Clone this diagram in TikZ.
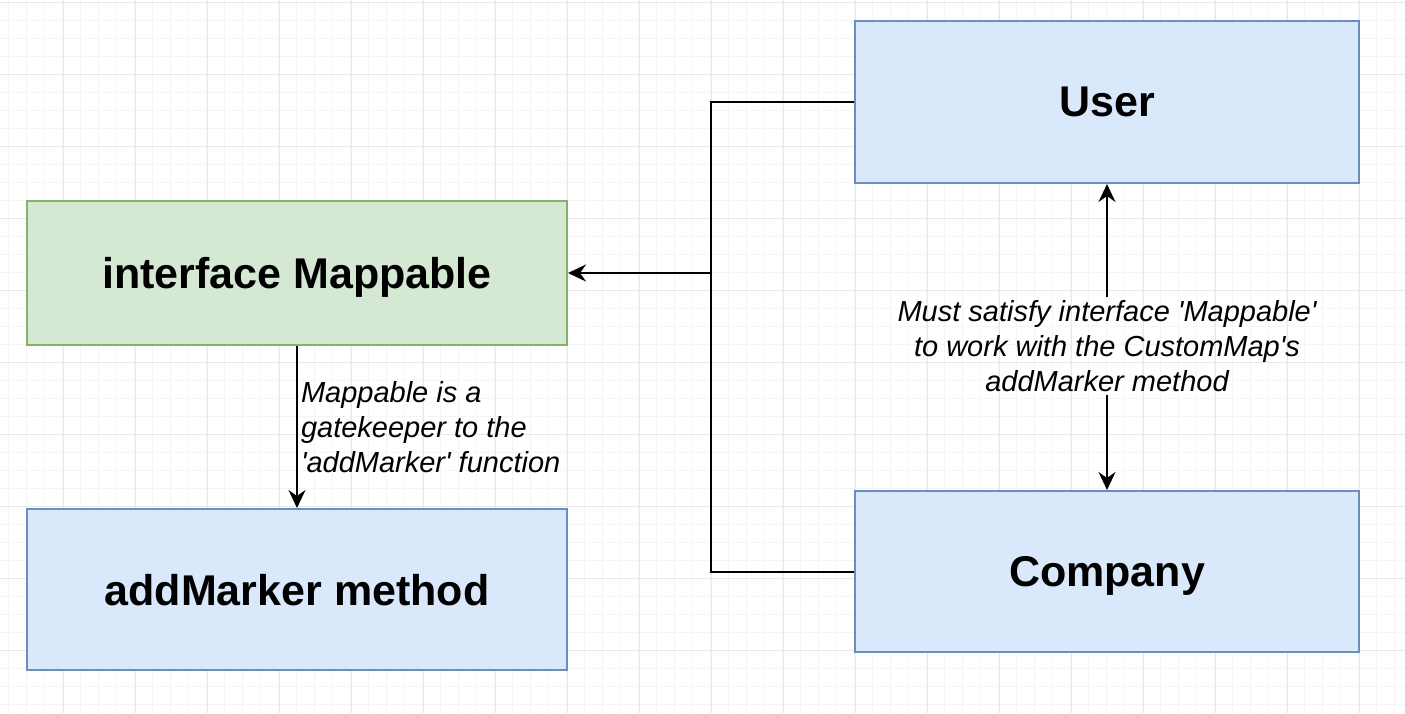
\documentclass[tikz,border=0pt]{standalone}
\usepackage{fontspec}
\setmainfont{Liberation Sans}
\usetikzlibrary{arrows.meta,positioning}
\definecolor{boxblue}{HTML}{DAE8FC}
\definecolor{lineblue}{HTML}{6C8EBF}
\definecolor{boxgreen}{HTML}{D5E8D4}
\definecolor{linegreen}{HTML}{82B366}
\definecolor{gridminor}{HTML}{F5F5F5}
\definecolor{gridmajor}{HTML}{E8E8E8}
\newcommand{\sq}{\textquotesingle}

\begin{document}
\begin{tikzpicture}[x=1pt, y=-1pt,
  box/.style={draw, line width=2pt, align=center, inner sep=0pt, text depth=0pt,
              font=\fontsize{43}{50}\selectfont\bfseries},
  bluebox/.style={box, fill=boxblue, draw=lineblue},
  greenbox/.style={box, fill=boxgreen, draw=linegreen},
  lbl/.style={align=center, inner sep=3pt, font=\fontsize{29}{35}\selectfont\itshape},
  arr/.style={-{Stealth[length=18pt, width=17pt, inset=6pt]}, line width=2pt},
  link/.style={line width=2pt}]
  \useasboundingbox (0,0) rectangle (1405,713);
  % background grid
  \foreach \x in {8.3,26.3,...,1405} \draw[gridminor, line width=1pt] (\x,0) -- (\x,713);
  \foreach \y in {2.3,20.3,...,713} \draw[gridminor, line width=1pt] (0,\y) -- (1405,\y);
  \foreach \x in {63.3,135.3,...,1405} \draw[gridmajor, line width=1pt] (\x,0) -- (\x,713);
  \foreach \y in {2.3,74.3,...,713} \draw[gridmajor, line width=1pt] (0,\y) -- (1405,\y);

  \node[greenbox, minimum width=540pt, minimum height=144pt] (mappable) at (297,273) {interface Mappable};
  \node[bluebox, minimum width=540pt, minimum height=161pt, below=162pt of mappable] (addmarker) {addMarker method};
  \node[bluebox, minimum width=504pt, minimum height=162pt] (user) at (1107,102) {User};
  \node[bluebox, minimum width=504pt, minimum height=161pt, below=306pt of user] (company) {Company};

  \coordinate (bus) at (711,273);
  \draw[link] (user.west) -| (bus) |- (company.west);
  \draw[arr] (bus) -- (mappable.east);
  \draw[arr] (mappable.south) -- node[lbl, right, align=left]
    {Mappable is a\\ gatekeeper to the\\ \sq addMarker\sq{} function} (addmarker.north);

  \node[lbl] (satisfy) at ([yshift=-162pt]user.south)
    {Must satisfy interface \sq Mappable\sq\\ to work with the CustomMap\sq s\\ addMarker method};
  \draw[arr] (satisfy) -- (user);
  \draw[arr] (satisfy) -- (company);
\end{tikzpicture}
\end{document}
